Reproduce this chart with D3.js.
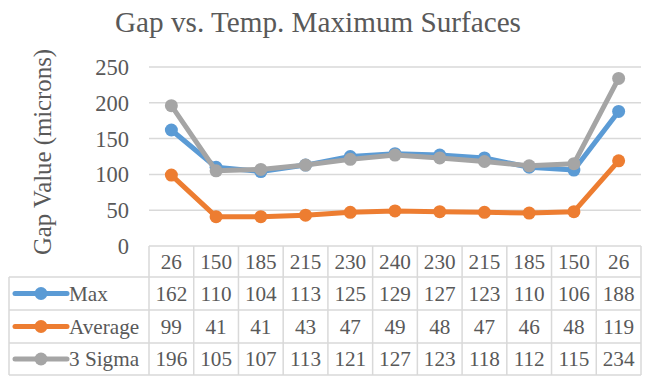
<!DOCTYPE html>
<html lang="en">

<head>
  <meta charset="UTF-8">
  <title>Gap vs. Temp. Maximum Surfaces</title>
  <style>
    body {
      margin: 0;
      background: #fff;
    }

    svg text {
      font-family: 'Liberation Serif', 'Times New Roman', Times, serif;
      fill: #595959;
    }
  </style>
</head>

<body>
  <div id="chart"></div>

  <script src="https://d3js.org/d3.v7.min.js"></script>
  <script>
    // data
    const temps = ['26', '150', '185', '215', '230', '240', '230', '215', '185', '150', '26']
    const maxVals = [162, 110, 104, 113, 125, 129, 127, 123, 110, 106, 188]
    const avgVals = [99, 41, 41, 43, 47, 49, 48, 47, 46, 48, 119]
    const sigmaVals = [196, 105, 107, 113, 121, 127, 123, 118, 112, 115, 234]
    const seriesNames = ['Max', 'Average', '3 Sigma']
    const yTicks = [0, 50, 100, 150, 200, 250]

    const colors = ['#5B9BD5', '#ED7D31', '#A5A5A5']
    const series = [maxVals, avgVals, sigmaVals].map((v, i) => ({
      name: seriesNames[i],
      values: v,
      color: colors[i]
    }))

    const width = 650
    const height = 383
    const plot = { left: 149, right: 641, top: 67, bottom: 246 }
    const table = { left: 9, rowTops: [246, 277, 310, 343, 375] }
    const gridColor = '#d9d9d9'

    const svg = d3.select('#chart').append('svg')
      .attr('width', width)
      .attr('height', height)

    // index keeps duplicate temperatures apart
    const x = d3.scaleBand()
      .domain(temps.map((d, i) => i))
      .range([plot.left, plot.right])

    const y = d3.scaleLinear()
      .domain([0, 250])
      .range([plot.bottom, plot.top])

    // title
    svg.append('text')
      .attr('x', 318)
      .attr('y', 32)
      .attr('text-anchor', 'middle')
      .style('font-size', '29.2px')
      .text('Gap vs. Temp. Maximum Surfaces')

    // y axis title
    svg.append('text')
      .attr('transform', `translate(51, 152) rotate(-90)`)
      .attr('text-anchor', 'middle')
      .style('font-size', '24.8px')
      .text('Gap Value (microns)')

    // gridlines
    svg.append('g')
      .selectAll('line')
      .data(yTicks.filter(d => d > 0))
      .join('line')
      .attr('x1', plot.left)
      .attr('x2', plot.right)
      .attr('y1', d => y(d))
      .attr('y2', d => y(d))
      .attr('stroke', gridColor)
      .attr('stroke-width', 1.5)

    // y axis labels
    const yAxis = d3.axisLeft(y).tickValues(yTicks).tickSize(0).tickPadding(0)
    const ya = svg.append('g')
      .attr('transform', `translate(129, 0)`)
      .call(yAxis)
    ya.attr('font-family', null)
    ya.select('.domain').remove()
    ya.selectAll('text')
      .attr('dy', '0.33em')
      .style('font-size', '22.5px')
      .attr('fill', '#595959')

    // lines and markers
    const line = d3.line()
      .x((d, i) => x(i) + x.bandwidth() / 2)
      .y(d => y(d))

    const sg = svg.append('g')
      .selectAll('g')
      .data(series)
      .join('g')

    sg.append('path')
      .attr('d', d => line(d.values))
      .attr('fill', 'none')
      .attr('stroke', d => d.color)
      .attr('stroke-width', 5)
      .attr('stroke-linejoin', 'round')

    sg.selectAll('circle')
      .data(d => d.values.map(v => ({ v, color: d.color })))
      .join('circle')
      .attr('cx', (d, i) => x(i) + x.bandwidth() / 2)
      .attr('cy', d => y(d.v))
      .attr('r', 6.5)
      .attr('fill', d => d.color)

    // data table
    const tg = svg.append('g')
    const rows = table.rowTops
    const border = (x1, y1, x2, y2) => tg.append('line')
      .attr('x1', x1).attr('y1', y1).attr('x2', x2).attr('y2', y2)
      .attr('stroke', gridColor)
      .attr('stroke-width', 1.5)

    // horizontal borders
    border(plot.left, rows[0], plot.right, rows[0])
    for (let r = 1; r < rows.length; r++) {
      border(table.left, rows[r], plot.right, rows[r])
    }
    // vertical borders
    border(table.left, rows[1], table.left, rows[4])
    x.domain().forEach(i => border(x(i), rows[0], x(i), rows[4]))
    border(plot.right, rows[0], plot.right, rows[4])

    const fontSize = '21.2px'

    // header row: temperatures
    tg.selectAll('.hdr')
      .data(temps)
      .join('text')
      .attr('class', 'hdr')
      .attr('x', (d, i) => x(i) + x.bandwidth() / 2)
      .attr('y', (rows[0] + rows[1]) / 2 + 7)
      .attr('text-anchor', 'middle')
      .style('font-size', fontSize)
      .text(d => d)

    series.forEach((s, r) => {
      const cy = (rows[r + 1] + rows[r + 2]) / 2

      // legend key
      tg.append('line')
        .attr('x1', 15).attr('x2', 67)
        .attr('y1', cy).attr('y2', cy)
        .attr('stroke', s.color)
        .attr('stroke-width', 5)
        .attr('stroke-linecap', 'round')
      tg.append('circle')
        .attr('cx', 41).attr('cy', cy)
        .attr('r', 6.5)
        .attr('fill', s.color)
      tg.append('text')
        .attr('x', 69)
        .attr('y', cy + 7)
        .style('font-size', fontSize)
        .text(s.name)

      tg.selectAll(null)
        .data(s.values)
        .join('text')
        .attr('x', (d, i) => x(i) + x.bandwidth() / 2)
        .attr('y', cy + 7)
        .attr('text-anchor', 'middle')
        .style('font-size', fontSize)
        .text(d => d)
    })
  </script>
</body>

</html>
